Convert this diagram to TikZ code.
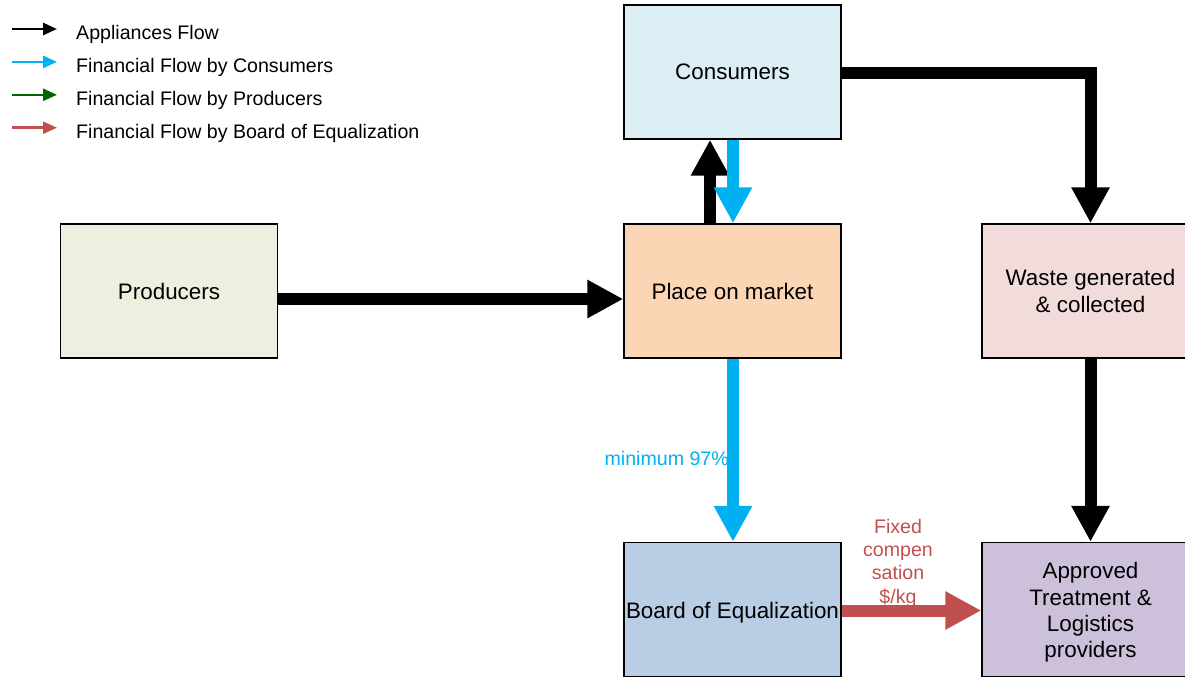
\documentclass[tikz,border=0pt]{standalone}
\usepackage{fontspec}
\setmainfont{Liberation Sans}
\usetikzlibrary{arrows.meta}
\definecolor{cCons}{HTML}{DAEEF3}
\definecolor{cPlace}{HTML}{FCD5B5}
\definecolor{cProd}{HTML}{EBF1DE}
\definecolor{cWaste}{HTML}{F2DCDB}
\definecolor{cBoard}{HTML}{B9CDE5}
\definecolor{cAppr}{HTML}{CCC0DA}
\definecolor{fblue}{HTML}{00B0F0}
\definecolor{fgreen}{HTML}{006600}
\definecolor{fred}{HTML}{C0504D}
\newcommand\bxfont{\fontsize{22.4}{27}\selectfont}
\newcommand\lgfont{\fontsize{19.6}{23.3}\selectfont}
\tikzset{
  box/.style={draw=black, line width=1.4pt, minimum width=217pt, minimum height=134pt, inner sep=0pt, font=\bxfont, align=center, text=black},
  fat/.style={line width=12pt, -{Triangle[length=36pt,width=36pt]}},
  thin/.style={line width=2.6pt, -{Triangle[length=14pt,width=12pt]}},
  lgtext/.style={anchor=base west, font=\lgfont, inner sep=0pt},
  flowlbl/.style={font=\lgfont, inner sep=0pt, align=center}
}
\begin{document}
\begin{tikzpicture}[x=1pt,y=-1pt]
\useasboundingbox (0,0) rectangle (1185,678);
\clip (0,0) rectangle (1185,678);
% legend
\foreach \i/\c/\t in {0/black/Appliances Flow,1/fblue/Financial Flow by Consumers,2/fgreen/Financial Flow by Producers,3/fred/Financial Flow by Board of Equalization}{
  \coordinate (ls\i) at (12,{29+32.9*\i});
  \coordinate (le\i) at (57,{29+32.9*\i});
  \draw[thin, draw=\c] (ls\i) -- (le\i);
  \node[lgtext] (lt\i) at (76,{39.3+33.2*\i}) {\t};
}
% boxes
\node[box, fill=cCons] (cons) at (732.5,72) {Consumers};
\node[box, fill=cPlace] (place) at (732.5,291) {Place on market};
\node[box, fill=cProd] (prod) at (169,291) {Producers};
\node[box, fill=cWaste] (waste) at (1090.5,291) {Waste generated\\\& collected};
\node[box, fill=cBoard] (board) at (732.5,609.5) {\raisebox{-3.5pt}[\height][\depth]{Board of Equalization}};
\node[box, fill=cAppr] (appr) at (1090.5,609.5) {\raisebox{-3.5pt}[\height][\depth]{\renewcommand\arraystretch{0.98}\begin{tabular}{@{}c@{}}Approved\\Treatment \&\\Logistics\\providers\end{tabular}}};
% connectors
\draw[fat, draw=black] ([yshift=-8pt]prod.east) -- ([yshift=-8pt]place.west);
\draw[fat, draw=black] ([xshift=-22.5pt]place.north) -- ([xshift=-22.5pt]cons.south);
\draw[fat, draw=fblue] ([xshift=0.5pt]cons.south) -- ([xshift=0.5pt]place.north);
\draw[fat, draw=black] ([yshift=-0.5pt]cons.east) -| (waste.north);
\draw[fat, draw=fblue] ([xshift=0.5pt]place.south) -- ([xshift=0.5pt]board.north);
\draw[fat, draw=black] (waste.south) -- (appr.north);
\draw[fat, draw=fred] ([yshift=-1pt]board.east) -- ([yshift=-1pt]appr.west);
% labels
\node[flowlbl, text=fblue, anchor=base east] (minlbl) at (729,465) {minimum 97\%};
\node[flowlbl, text=fred] (fixlbl) at (898,563) {Fixed\\compen\\sation\\\$/kg};
\end{tikzpicture}
\end{document}
